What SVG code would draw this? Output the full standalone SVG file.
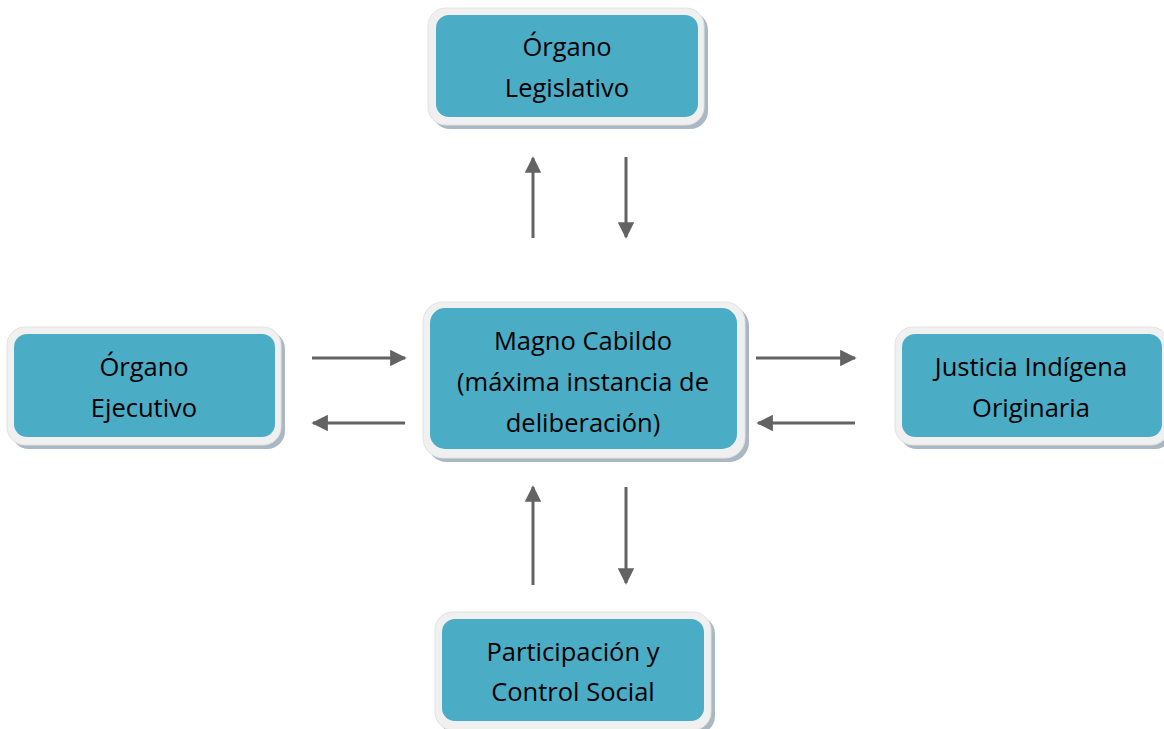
<svg xmlns="http://www.w3.org/2000/svg" width="1164" height="729" viewBox="0 0 1164 729">
<defs>
<style>
.sh{fill:#a9b8c2}
.fr{fill:#f0f0f0;stroke:#e2e2e2;stroke-width:1}
.bx{fill:#4bacc6}
.t{font-family:"Open Sans","Liberation Sans",Arial,sans-serif;font-size:25.5px;fill:#000;text-anchor:middle}
.c{stroke:#636363;stroke-width:3;fill:none;marker-end:url(#ah)}
</style>
<marker id="ah" viewBox="0 0 10 10" refX="9" refY="5" markerWidth="5.5" markerHeight="5.5" orient="auto" markerUnits="strokeWidth">
<path d="M0,0 L10,5 L0,10 z" fill="#636363"/>
</marker>
</defs>
<rect width="1164" height="729" fill="#fff"/>
<g id="connectors">
<line class="c" x1="533" y1="238" x2="533" y2="158"/>
<line class="c" x1="626" y1="157" x2="626" y2="237"/>
<line class="c" x1="312" y1="358" x2="405" y2="358"/>
<line class="c" x1="405" y1="423" x2="313" y2="423"/>
<line class="c" x1="756" y1="358" x2="855" y2="358"/>
<line class="c" x1="855" y1="423" x2="758" y2="423"/>
<line class="c" x1="533" y1="585" x2="533" y2="487"/>
<line class="c" x1="626" y1="487" x2="626" y2="583"/>
</g>
<g id="legislativo">
<rect class="sh" x="432" y="12" width="276" height="117" rx="18"/>
<rect class="fr" x="428" y="8" width="276" height="117" rx="18"/>
<rect class="bx" x="436" y="15" width="262" height="102" rx="13"/>
<text class="t" x="567" y="56">Órgano</text>
<text class="t" x="567" y="97">Legislativo</text>
</g>
<g id="ejecutivo">
<rect class="sh" x="11" y="331" width="274" height="118" rx="18"/>
<rect class="fr" x="7" y="327" width="274" height="118" rx="18"/>
<rect class="bx" x="14" y="334" width="261" height="103" rx="13"/>
<text class="t" x="144" y="376">Órgano</text>
<text class="t" x="144" y="417">Ejecutivo</text>
</g>
<g id="magno-cabildo">
<rect class="sh" x="427" y="306" width="322" height="156" rx="20"/>
<rect class="fr" x="423" y="302" width="322" height="156" rx="20"/>
<rect class="bx" x="430" y="308" width="307" height="141" rx="15"/>
<text class="t" x="583" y="350">Magno Cabildo</text>
<text class="t" x="583" y="391">(máxima instancia de</text>
<text class="t" x="583" y="432">deliberación)</text>
</g>
<g id="justicia">
<rect class="sh" x="899" y="331" width="274" height="118" rx="18"/>
<rect class="fr" x="895" y="327" width="274" height="118" rx="18"/>
<rect class="bx" x="902" y="334" width="260" height="103" rx="13"/>
<text class="t" x="1031" y="376">Justicia Indígena</text>
<text class="t" x="1031" y="417">Originaria</text>
</g>
<g id="participacion">
<rect class="sh" x="439" y="616" width="276" height="118" rx="18"/>
<rect class="fr" x="435" y="612" width="276" height="118" rx="18"/>
<rect class="bx" x="442" y="619" width="262" height="102" rx="13"/>
<text class="t" x="573" y="661">Participación y</text>
<text class="t" x="573" y="701">Control Social</text>
</g>
</svg>
